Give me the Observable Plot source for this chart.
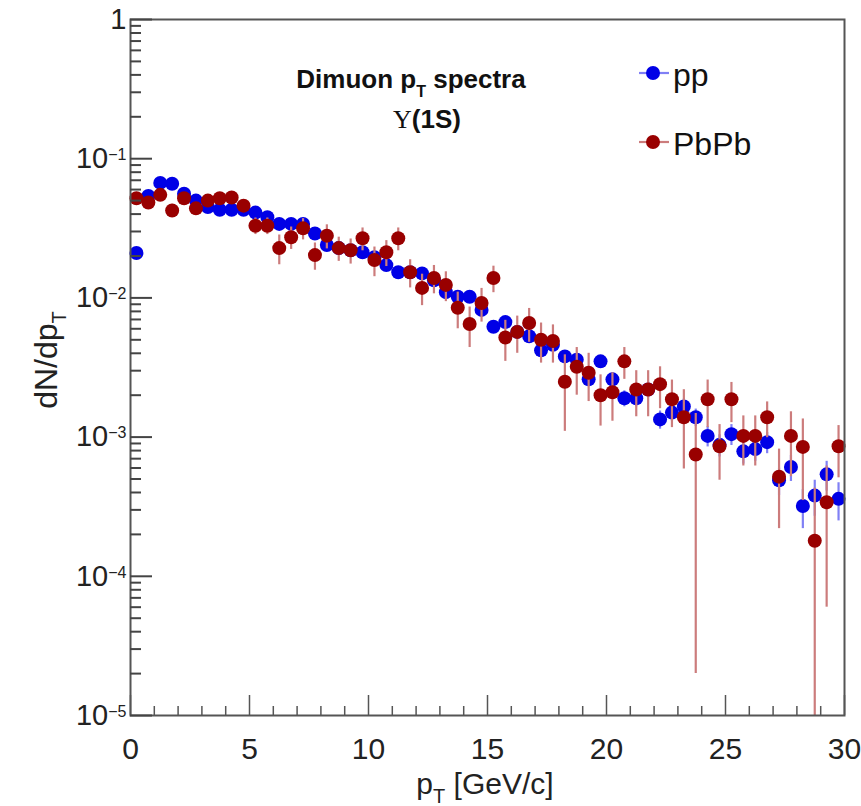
<!DOCTYPE html>
<html><head><meta charset="utf-8">
<script src="https://cdn.jsdelivr.net/npm/d3@7"></script>
<script src="https://cdn.jsdelivr.net/npm/@observablehq/plot@0.6"></script>
<style>body{margin:0;background:#fff;}</style>
</head><body><div id="chart"></div>
<script>
// bin centres (GeV/c)
const pt = [0.25,0.75,1.25,1.75,2.25,2.75,3.25,3.75,4.25,4.75,
            5.25,5.75,6.25,6.75,7.25,7.75,8.25,8.75,9.25,9.75,
            10.25,10.75,11.25,11.75,12.25,12.75,13.25,13.75,14.25,14.75,
            15.25,15.75,16.25,16.75,17.25,17.75,18.25,18.75,19.25,19.75,
            20.25,20.75,21.25,21.75,22.25,22.75,23.25,23.75,24.25,24.75,
            25.25,25.75,26.25,26.75,27.25,27.75,28.25,28.75,29.25,29.75];
const ppVal = [0.021,0.054,0.067,0.066,0.056,0.050,0.045,0.043,0.043,0.043,
               0.041,0.038,0.034,0.034,0.034,0.029,0.024,0.0228,0.022,0.0213,
               0.0196,0.0172,0.0153,0.0153,0.015,0.0134,0.011,0.0102,0.0102,0.0082,
               0.0062,0.0067,0.0057,0.0053,0.0042,0.0046,0.0038,0.0036,0.0026,0.0035,
               0.0026,0.0019,0.0019,0.0022,0.00134,0.0015,0.00166,0.00139,0.00102,0.00088,
               0.00105,0.00079,0.00082,0.00092,0.00049,0.00061,0.00032,0.00038,0.00054,0.00036];
const ppErr = [0.0012,0.0022,0.0025,0.0025,0.0022,0.002,0.0019,0.0018,0.0018,0.0018,
               0.0017,0.0016,0.0015,0.0015,0.0015,0.0013,0.0012,0.0011,0.0011,0.0011,
               0.001,0.0009,0.0009,0.0009,0.0009,0.0008,0.0007,0.0007,0.0007,0.0006,
               0.0005,0.0005,0.0005,0.00045,0.0004,0.0004,0.00035,0.00035,0.0003,0.00035,
               0.0003,0.00025,0.00025,0.00028,0.0002,0.0002,0.00022,0.0002,0.00017,0.00016,
               0.00018,0.00015,0.00015,0.00016,0.00011,0.00013,0.0001,0.00011,0.00013,0.00011];
const pbVal = [0.052,0.0485,0.055,0.0425,0.052,0.044,0.050,0.052,0.0526,0.046,
               0.033,0.033,0.0228,0.0273,0.0316,0.0203,0.028,0.0228,0.022,0.0268,
               0.0187,0.0213,0.0268,0.0153,0.0118,0.0139,0.0124,0.0085,0.0065,0.0092,
               0.0139,0.0052,0.0057,0.0066,0.005,0.0049,0.0025,0.0032,0.0029,0.0020,
               0.0021,0.0035,0.0022,0.0022,0.0024,0.00187,0.00139,0.00075,0.00187,0.00086,
               0.00187,0.00102,0.00102,0.00139,0.00052,0.00102,0.00085,0.00018,0.00034,0.00086];
const pbErr = [0.005,0.005,0.0055,0.0045,0.005,0.0045,0.005,0.005,0.005,0.0048,
               0.0045,0.0045,0.0055,0.005,0.0055,0.0045,0.0055,0.0045,0.0045,0.005,
               0.0045,0.0045,0.005,0.0035,0.003,0.0032,0.003,0.0025,0.0021,0.0025,
               0.003,0.0017,0.0017,0.0018,0.0016,0.0015,0.0014,0.0012,0.0011,0.0008,
               0.0008,0.0009,0.0008,0.0008,0.0008,0.0007,0.0008,0.00073,0.0007,0.00037,
               0.0006,0.0004,0.0004,0.0004,0.0003,0.0005,0.0005,0.00025,0.00028,0.00035];

const seriesNames = ["pp", "PbPb"];
const xMajor = [0,5,10,15,20,25,30];
const xMinor = [1,2,3,4,6,7,8,9,11,12,13,14,16,17,18,19,21,22,23,24,26,27,28,29];
const yMajor = [1e-5,1e-4,1e-3,1e-2,1e-1,1];
const yMinor = [2e-5,3e-5,4e-5,5e-5,6e-5,7e-5,8e-5,9e-5,
                2e-4,3e-4,4e-4,5e-4,6e-4,7e-4,8e-4,9e-4,
                2e-3,3e-3,4e-3,5e-3,6e-3,7e-3,8e-3,9e-3,
                2e-2,3e-2,4e-2,5e-2,6e-2,7e-2,8e-2,9e-2,
                0.2,0.3,0.4,0.5,0.6,0.7,0.8,0.9];

const markerColor = {pp: "#0000e6", PbPb: "#990000"};
const barColor = {pp: "#8080f5", PbPb: "#cc7c7c"};
const yMin = 1e-5, yMax = 1;

const mk = (vals, errs) => pt.map((x, i) => ({x, v: vals[i], lo: Math.max(vals[i] - errs[i], yMin), hi: vals[i] + errs[i]}));
const ppData = mk(ppVal, ppErr);
const pbData = mk(pbVal, pbErr);

const W = 861, H = 806, mL = 130, mR = 17, mT = 19, mB = 91;
const innerW = W - mL - mR;
const font = "'Liberation Sans', Arial, Helvetica, sans-serif";
const axisCol = "#555";
// inward y tick lengths (11 px and 22 px) expressed in x units
const minorLen = 11 / innerW * 30, majorLen = 22 / innerW * 30;

const plot = Plot.plot({
  width: W, height: H,
  marginLeft: mL, marginRight: mR, marginTop: mT, marginBottom: mB,
  style: {fontFamily: font, background: "white", color: "#222"},
  x: {domain: [0, 30]},
  y: {type: "log", domain: [yMin, yMax]},
  marks: [
    Plot.ruleX(ppData, {x: "x", y1: "lo", y2: "hi", stroke: barColor.pp, strokeWidth: 2.2}),
    Plot.dot(ppData, {x: "x", y: "v", r: 7, fill: markerColor.pp}),
    Plot.ruleX(pbData, {x: "x", y1: "lo", y2: "hi", stroke: barColor.PbPb, strokeWidth: 2.2}),
    Plot.dot(pbData, {x: "x", y: "v", r: 7, fill: markerColor.PbPb}),
    Plot.frame({stroke: axisCol, strokeWidth: 2}),
    Plot.axisX(xMinor, {tickSize: -9, tickFormat: () => "", label: null, stroke: axisCol, strokeWidth: 1.5}),
    Plot.axisX(xMajor, {tickSize: -20, tickFormat: () => "", label: null, stroke: axisCol, strokeWidth: 1.5}),
    Plot.axisX(xMajor, {tickSize: 0, tickPadding: 22, fontSize: 30, label: null, tickFormat: d => String(d), fill: "#222"}),
    Plot.ruleY(yMinor, {y: d => d, x1: 0, x2: minorLen, stroke: "#444", strokeWidth: 2}),
    Plot.ruleY(yMajor, {y: d => d, x1: 0, x2: majorLen, stroke: "#444", strokeWidth: 2}),
    Plot.axisY(yMajor, {tickSize: 0, tickPadding: 4, fontSize: 29, label: null, fill: "#222",
      tickFormat: d => d === 1 ? "1" : "10|" + Math.round(Math.log10(d))})
  ]
});

const svg = d3.select(plot);
svg.selectAll("text").each(function() {
  const t = d3.select(this);
  const s = t.text();
  if (s.includes("|")) {
    const [base, ex] = s.split("|");
    t.text("");
    t.append("tspan").text(base);
    t.append("tspan").attr("dy", "-0.5em").attr("font-size", "16px").text("\u2212" + ex.replace("-", ""));
  }
});

// title
const title = svg.append("text").attr("x", 411).attr("y", 88).attr("text-anchor", "middle")
  .attr("font-family", font).attr("font-weight", "bold").attr("font-size", 26).attr("fill", "#111");
title.append("tspan").text("Dimuon p");
title.append("tspan").attr("dy", 9).attr("font-size", 16).text("T");
title.append("tspan").attr("dy", -9).text(" spectra");
const sub = svg.append("text").attr("x", 427).attr("y", 128).attr("text-anchor", "middle")
  .attr("font-family", font).attr("font-weight", "bold").attr("font-size", 26).attr("fill", "#111");
sub.append("tspan").attr("font-family", "'Liberation Serif', 'DejaVu Serif', serif").attr("font-weight", "normal").text("\u03A5");
sub.append("tspan").text("(1S)");

// legend
const legY = {pp: 73, PbPb: 142};
seriesNames.forEach(name => {
  const g = svg.append("g");
  g.append("rect").attr("x", 639).attr("y", legY[name] - 1.1).attr("width", 30).attr("height", 2.2)
    .attr("fill", barColor[name]);
  g.append("circle").attr("cx", 653).attr("cy", legY[name]).attr("r", 7).attr("fill", markerColor[name]);
  g.append("text").attr("x", 673).attr("y", legY[name] + 13).attr("text-anchor", "start").attr("font-family", font)
    .attr("font-size", 32).attr("fill", "#111").text(name);
});

// axis titles
const xt = svg.append("text").attr("x", 485).attr("y", 794).attr("text-anchor", "middle")
  .attr("font-family", font).attr("font-size", 30).attr("fill", "#222");
xt.append("tspan").text("p");
xt.append("tspan").attr("dy", 9).attr("font-size", 20).text("T");
xt.append("tspan").attr("dy", -9).text(" [GeV/c]");

const yt = svg.append("text").attr("transform", "translate(57,360) rotate(-90)").attr("text-anchor", "middle")
  .attr("font-family", font).attr("font-size", 32).attr("fill", "#222");
yt.append("tspan").text("dN/dp");
yt.append("tspan").attr("dy", 9).attr("font-size", 20).text("T");

document.getElementById("chart").appendChild(plot);
</script>
</body></html>
